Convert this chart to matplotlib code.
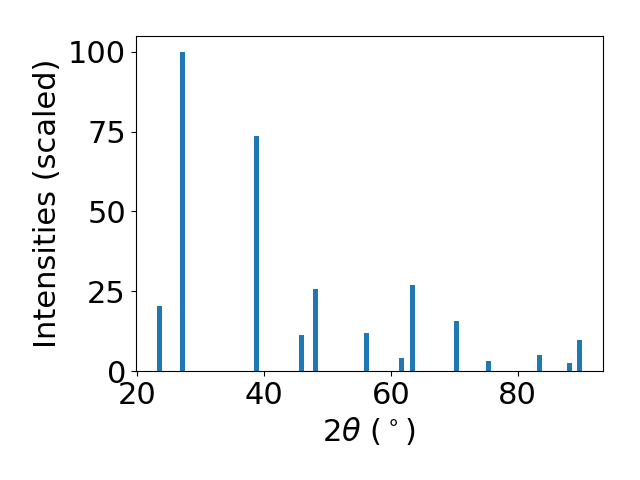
import numpy as np
import matplotlib
matplotlib.use('Agg')
import matplotlib.pyplot as plt

# peak positions (2theta, degrees) and scaled intensities
two_theta = [23.47, 27.05, 38.72, 45.93, 48.08, 56.12, 61.70, 63.38, 70.27, 75.36, 83.41, 88.14, 89.67]
intensity = [20.4, 100.0, 73.7, 11.3, 25.7, 11.9, 4.1, 27.0, 15.7, 3.1, 5.0, 2.5, 9.7]

plt.rcParams['font.size'] = 22

fig = plt.figure(figsize=(6.4, 4.8), dpi=100)
ax = fig.add_subplot(111)
ax.bar(two_theta, intensity, width=0.8, color='#1f77b4')
ax.set_xlabel(r'2$\theta$ ($^\circ$)')
ax.set_ylabel('Intensities (scaled)')
ax.set_yticks([0, 25, 50, 75, 100])
fig.subplots_adjust(left=0.212, right=0.942, bottom=0.227, top=0.925)
fig.savefig('out.png')
